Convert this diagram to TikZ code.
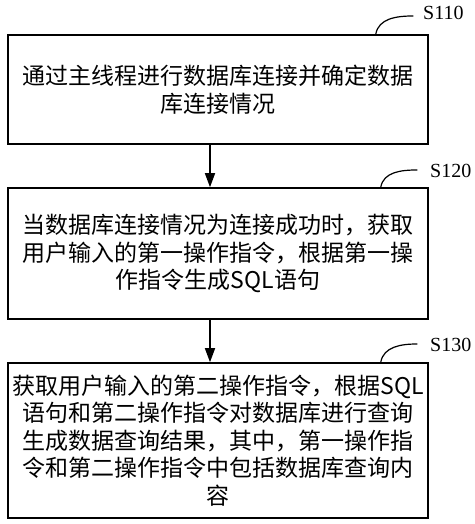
\documentclass[tikz,border=0pt]{standalone}
\usepackage{fontspec}
\setmainfont{Liberation Serif}
\newfontfamily\cjk{Noto Sans CJK SC}
\usetikzlibrary{arrows.meta}

\begin{document}
\begin{tikzpicture}[line cap=round,>={Triangle[length=14pt,width=10pt]},x=1pt,y=1pt,
  stepbox/.style={draw=black,line width=1.5pt,minimum width=420pt,align=center,inner sep=0pt,
    font=\cjk\fontsize{23}{27.5}\selectfont},
  tag/.style={anchor=west,inner sep=0pt,font=\fontsize{20}{24}\selectfont},
  leader/.style={line width=1.2pt}]
\useasboundingbox (0,0) rectangle (474,524);

% steps
\node[stepbox,minimum height=109pt] (s110) at (218,434.5) {通过主线程进行数据库连接并确定数据\\库连接情况};
\node[stepbox,minimum height=131pt] (s120) at (218,270.5) {当数据库连接情况为连接成功时，获取\\用户输入的第一操作指令，根据第一操\\作指令生成SQL语句};
\node[stepbox,minimum height=155pt] (s130) at (218,83.5) {获取用户输入的第二操作指令，根据SQL\\语句和第二操作指令对数据库进行查询\\生成数据查询结果，其中，第一操作指\\令和第二操作指令中包括数据库查询内\\容};

% arrows
\draw[->,line width=1.5pt] ([xshift=-8pt]s110.south) -- ([xshift=-8pt]s120.north);
\draw[->,line width=1.5pt] ([xshift=-8pt]s120.south) -- ([xshift=-8pt]s130.north);

% step labels
\node[tag] (t110) at (423,511) {S110};
\node[tag] (t120) at (430,353) {S120};
\node[tag] (t130) at (430,179) {S130};
\draw[leader] ([xshift=-53pt]s110.north east) to[out=80,in=180] ([xshift=-10pt,yshift=-3pt]t110.west);
\draw[leader] ([xshift=-48pt]s120.north east) to[out=80,in=180] ([xshift=-13pt,yshift=1pt]t120.west);
\draw[leader] ([xshift=-48pt]s130.north east) to[out=80,in=180] ([xshift=-13pt,yshift=1pt]t130.west);
\end{tikzpicture}
\end{document}
